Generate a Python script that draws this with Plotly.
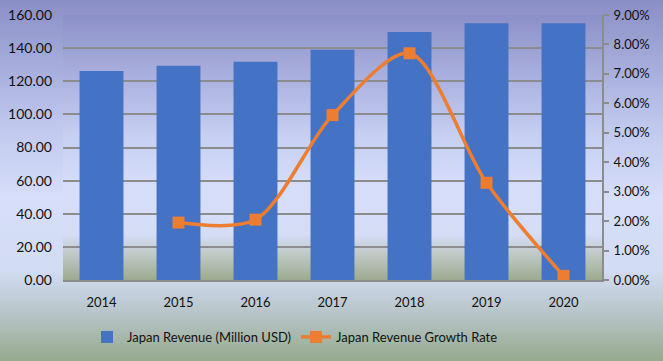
import plotly.graph_objects as go
import urllib.parse

years = ["2014", "2015", "2016", "2017", "2018", "2019", "2020"]
revenue = [126.2, 129.3, 131.7, 139.0, 149.8, 155.0, 155.0]
growth_pct = [None, 1.95, 2.05, 5.6, 7.7, 3.3, 0.14]
growth = [None if v is None else v / 100 for v in growth_pct]

left_ticks = [0, 20, 40, 60, 80, 100, 120, 140, 160]
right_ticks = [0.0, 0.01, 0.02, 0.03, 0.04, 0.05, 0.06, 0.07, 0.08, 0.09]

W, H = 663, 361
ml, mr, mt, mb = 63, 61, 15, 81
pw, ph = W - ml - mr, H - mt - mb


def svg_uri(stops):
    s = "".join(f'<stop offset="{o}" stop-color="{c}"/>' for o, c in stops)
    svg = ('<svg xmlns="http://www.w3.org/2000/svg" width="100" height="100" preserveAspectRatio="none">'
           '<defs><linearGradient id="g" x1="0" y1="0" x2="0" y2="1">' + s +
           '</linearGradient></defs><rect width="100" height="100" fill="url(#g)"/></svg>')
    return "data:image/svg+xml;charset=utf-8," + urllib.parse.quote(svg)


paper_bg = svg_uri([(0, "#8a8ec6"), (0.35, "#c0c8ee"), (0.55, "#d6defa"),
                    (0.75, "#d2dcf2"), (0.88, "#b4c2c4"), (1, "#96aa8c")])
plot_bg = svg_uri([(0, "#8c90c8"), (0.45, "#c6cef2"), (0.65, "#d6defa"),
                   (0.83, "#d4dcf6"), (0.9, "#c0cac8"), (1, "#9cab8e")])

fig = go.Figure()
fig.add_trace(go.Bar(
    x=years, y=revenue, name="Japan Revenue (Million USD)",
    marker=dict(color="#4472C4", line=dict(width=0)),
))
fig.add_trace(go.Scatter(
    x=years, y=growth, name="Japan Revenue Growth Rate", yaxis="y2",
    mode="lines+markers",
    line=dict(color="#ED7D31", width=3.5, shape="spline", smoothing=0.85),
    marker=dict(symbol="square", size=12, color="#ED7D31"),
))

font = dict(family="Lato, 'Open Sans', sans-serif", size=13, color="#111111")
yfont = dict(family="Lato, 'Open Sans', sans-serif", size=14, color="#111111")

fig.update_layout(
    width=W, height=H,
    margin=dict(l=ml, r=mr, t=mt, b=mb, pad=0, autoexpand=False),
    paper_bgcolor="#d0d8f4",
    plot_bgcolor="rgba(0,0,0,0)",
    font=font,
    bargap=0.43,
    showlegend=True,
    legend=dict(orientation="h", xref="container", x=295 / W, xanchor="center",
                yref="container", y=1 - 337 / H, yanchor="middle",
                bgcolor="rgba(0,0,0,0)", font=dict(size=13, color="#111111"),
                itemwidth=30, tracegroupgap=0),
    xaxis=dict(showline=True, linecolor="#8c8c8c", linewidth=2, showgrid=False,
               ticks="", tickfont=font, automargin=False, ticklabelstandoff=9),
    yaxis=dict(range=[0, 160], tickvals=left_ticks, tickformat=".2f",
               showgrid=True, gridcolor="#8c8c8c", gridwidth=1.5,
               zeroline=False, showline=False, ticks="", tickfont=yfont,
               automargin=False, ticklabelstandoff=10),
    yaxis2=dict(range=[0, 0.09], tickvals=right_ticks, tickformat=".2%",
                overlaying="y", side="right", showgrid=False, zeroline=False,
                showline=True, linecolor="#8c8c8c", linewidth=2,
                ticks="outside", ticklen=5, tickcolor="#8c8c8c", tickwidth=2,
                tickfont=font, automargin=False, ticklabelstandoff=2),
    images=[
        dict(source=paper_bg, xref="paper", yref="paper",
             x=-ml / pw, y=1 + mt / ph, sizex=W / pw, sizey=H / ph,
             xanchor="left", yanchor="top", sizing="stretch", layer="below"),
        dict(source=plot_bg, xref="paper", yref="paper",
             x=0, y=1, sizex=1, sizey=1,
             xanchor="left", yanchor="top", sizing="stretch", layer="below"),
    ],
)

fig.write_html("out.html",
               config={"displayModeBar": False},
               post_script="document.body.style.margin='0';document.body.style.overflow='hidden';")
